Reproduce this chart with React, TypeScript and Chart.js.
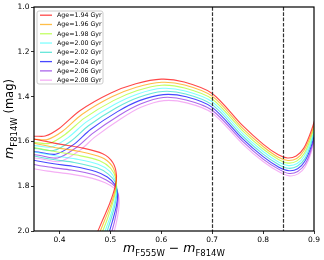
import React, { useEffect, useRef } from "react";
import { Chart, registerables } from "chart.js";

Chart.register(...registerables);

// ---- Data ----
const AGE_LABELS = [
  "Age=1.94 Gyr",
  "Age=1.96 Gyr",
  "Age=1.98 Gyr",
  "Age=2.00 Gyr",
  "Age=2.02 Gyr",
  "Age=2.04 Gyr",
  "Age=2.06 Gyr",
  "Age=2.08 Gyr",
];

const LINE_COLORS = [
  "rgba(255,0,0,0.72)",
  "rgba(255,165,0,0.72)",
  "rgba(173,255,47,0.75)",
  "rgba(0,255,255,0.5)",
  "rgba(64,224,208,0.8)",
  "rgba(0,0,255,0.72)",
  "rgba(138,43,226,0.72)",
  "rgba(238,130,238,0.65)",
];

// colour (F555W - F814W) and magnitude (F814W) along each isochrone
const X_194 = [0.468, 0.485, 0.499, 0.509, 0.512, 0.505, 0.485, 0.44, 0.4, 0.35, 0.335, 0.35, 0.372, 0.4, 0.44, 0.5, 0.55, 0.6, 0.645, 0.7, 0.76, 0.8, 0.83, 0.848, 0.865, 0.88, 0.895, 0.91];
const Y_194 = [2.04, 1.95, 1.875, 1.804, 1.75, 1.695, 1.655, 1.627, 1.612, 1.589, 1.584, 1.577, 1.576, 1.541, 1.463, 1.385, 1.343, 1.322, 1.335, 1.386, 1.53, 1.612, 1.66, 1.674, 1.665, 1.63, 1.55, 1.44];

const X_196 = [0.473, 0.489, 0.502, 0.51, 0.511, 0.503, 0.482, 0.437, 0.398, 0.35, 0.334, 0.35, 0.376, 0.406, 0.444, 0.503, 0.551, 0.601, 0.646, 0.7, 0.76, 0.8, 0.83, 0.849, 0.866, 0.88, 0.895, 0.91];
const Y_196 = [2.04, 1.951, 1.877, 1.809, 1.759, 1.708, 1.671, 1.644, 1.63, 1.608, 1.601, 1.591, 1.592, 1.555, 1.48, 1.401, 1.358, 1.336, 1.348, 1.398, 1.542, 1.623, 1.671, 1.685, 1.676, 1.642, 1.564, 1.449];

const X_198 = [0.478, 0.493, 0.504, 0.511, 0.511, 0.501, 0.479, 0.434, 0.396, 0.35, 0.332, 0.35, 0.38, 0.411, 0.449, 0.506, 0.553, 0.601, 0.646, 0.7, 0.76, 0.8, 0.831, 0.849, 0.866, 0.881, 0.895, 0.91];
const Y_198 = [2.04, 1.953, 1.879, 1.814, 1.767, 1.721, 1.686, 1.661, 1.647, 1.627, 1.617, 1.605, 1.609, 1.569, 1.496, 1.418, 1.373, 1.349, 1.362, 1.411, 1.553, 1.634, 1.682, 1.697, 1.688, 1.653, 1.577, 1.457];

const X_200 = [0.483, 0.497, 0.507, 0.512, 0.51, 0.499, 0.476, 0.431, 0.394, 0.35, 0.331, 0.35, 0.384, 0.417, 0.453, 0.509, 0.554, 0.602, 0.647, 0.7, 0.76, 0.8, 0.831, 0.85, 0.867, 0.881, 0.895, 0.91];
const Y_200 = [2.04, 1.954, 1.881, 1.819, 1.776, 1.734, 1.702, 1.678, 1.665, 1.646, 1.634, 1.619, 1.625, 1.583, 1.513, 1.434, 1.388, 1.363, 1.375, 1.423, 1.565, 1.645, 1.693, 1.708, 1.699, 1.665, 1.591, 1.466];

const X_202 = [0.488, 0.5, 0.509, 0.513, 0.51, 0.496, 0.474, 0.429, 0.391, 0.35, 0.329, 0.35, 0.388, 0.423, 0.457, 0.511, 0.556, 0.603, 0.648, 0.7, 0.76, 0.8, 0.831, 0.85, 0.867, 0.882, 0.895, 0.91];
const Y_202 = [2.04, 1.956, 1.884, 1.825, 1.784, 1.746, 1.718, 1.694, 1.682, 1.665, 1.65, 1.632, 1.641, 1.598, 1.53, 1.451, 1.403, 1.377, 1.388, 1.436, 1.577, 1.657, 1.704, 1.72, 1.711, 1.677, 1.604, 1.474];

const X_204 = [0.493, 0.504, 0.512, 0.514, 0.509, 0.494, 0.471, 0.426, 0.389, 0.35, 0.328, 0.35, 0.392, 0.429, 0.461, 0.514, 0.557, 0.604, 0.649, 0.7, 0.76, 0.8, 0.831, 0.851, 0.868, 0.882, 0.895, 0.91];
const Y_204 = [2.04, 1.957, 1.886, 1.83, 1.793, 1.759, 1.734, 1.711, 1.7, 1.684, 1.667, 1.646, 1.657, 1.612, 1.547, 1.467, 1.418, 1.391, 1.401, 1.448, 1.589, 1.668, 1.715, 1.731, 1.722, 1.689, 1.618, 1.483];

const X_206 = [0.498, 0.508, 0.514, 0.515, 0.509, 0.492, 0.468, 0.423, 0.387, 0.35, 0.326, 0.35, 0.396, 0.434, 0.466, 0.517, 0.559, 0.604, 0.649, 0.7, 0.76, 0.8, 0.832, 0.851, 0.868, 0.883, 0.895, 0.91];
const Y_206 = [2.04, 1.959, 1.888, 1.835, 1.801, 1.772, 1.749, 1.728, 1.717, 1.703, 1.683, 1.66, 1.674, 1.626, 1.563, 1.484, 1.433, 1.404, 1.415, 1.461, 1.6, 1.679, 1.726, 1.743, 1.734, 1.7, 1.631, 1.491];

const X_208 = [0.503, 0.512, 0.517, 0.516, 0.508, 0.49, 0.465, 0.42, 0.385, 0.35, 0.325, 0.35, 0.4, 0.44, 0.47, 0.52, 0.56, 0.605, 0.65, 0.7, 0.76, 0.8, 0.832, 0.852, 0.869, 0.883, 0.895, 0.91];
const Y_208 = [2.04, 1.96, 1.89, 1.84, 1.81, 1.785, 1.765, 1.745, 1.735, 1.722, 1.7, 1.674, 1.69, 1.64, 1.58, 1.5, 1.448, 1.418, 1.428, 1.473, 1.612, 1.69, 1.737, 1.754, 1.745, 1.712, 1.645, 1.5];

const X_SERIES = [X_194, X_196, X_198, X_200, X_202, X_204, X_206, X_208];
const Y_SERIES = [Y_194, Y_196, Y_198, Y_200, Y_202, Y_204, Y_206, Y_208];

const X_TICKS = [0.4, 0.5, 0.6, 0.7, 0.8, 0.9];
const Y_TICKS = [1.0, 1.2, 1.4, 1.6, 1.8, 2.0];
const X_RANGE = [0.35, 0.9];
const Y_RANGE = [1.0, 2.0];
const DASHED_X = [0.7, 0.84];

const FONT = "'DejaVu Sans', 'Liberation Sans', sans-serif";

type Part = { text: string; size: number; italic?: boolean; sub?: boolean };

function drawRich(ctx: CanvasRenderingContext2D, parts: Part[], cx: number, baseline: number, subShift: number) {
  let total = 0;
  const widths: number[] = [];
  for (const p of parts) {
    ctx.font = `${p.italic ? "italic " : ""}${p.size}px ${FONT}`;
    const w = ctx.measureText(p.text).width;
    widths.push(w);
    total += w;
  }
  let x = cx - total / 2;
  ctx.textBaseline = "alphabetic";
  ctx.textAlign = "left";
  parts.forEach((p, i) => {
    ctx.font = `${p.italic ? "italic " : ""}${p.size}px ${FONT}`;
    ctx.fillText(p.text, x, baseline + (p.sub ? subShift : 0));
    x += widths[i];
  });
}

const overlayPlugin = {
  id: "overlay",
  afterDatasetsDraw(chart: any) {
    const { ctx, chartArea, scales } = chart;
    const { left, right, top, bottom } = chartArea;
    ctx.save();
    // dashed vertical lines
    ctx.strokeStyle = "#333";
    ctx.lineWidth = 1.2;
    ctx.setLineDash([3.7, 1.6]);
    for (const v of DASHED_X) {
      const px = Math.round(scales.x.getPixelForValue(v)) + 0.5;
      ctx.beginPath();
      ctx.moveTo(px, top);
      ctx.lineTo(px, bottom);
      ctx.stroke();
    }
    ctx.setLineDash([]);

    // legend
    const lx = left + 3, ly = top + 4, lw = 66, lh = 73, r = 2;
    ctx.beginPath();
    ctx.moveTo(lx + r, ly);
    ctx.lineTo(lx + lw - r, ly);
    ctx.quadraticCurveTo(lx + lw, ly, lx + lw, ly + r);
    ctx.lineTo(lx + lw, ly + lh - r);
    ctx.quadraticCurveTo(lx + lw, ly + lh, lx + lw - r, ly + lh);
    ctx.lineTo(lx + r, ly + lh);
    ctx.quadraticCurveTo(lx, ly + lh, lx, ly + lh - r);
    ctx.lineTo(lx, ly + r);
    ctx.quadraticCurveTo(lx, ly, lx + r, ly);
    ctx.closePath();
    ctx.fillStyle = "rgba(255,255,255,0.85)";
    ctx.fill();
    ctx.strokeStyle = "#cccccc";
    ctx.lineWidth = 1;
    ctx.stroke();
    chart.data.datasets.forEach((ds: any, i: number) => {
      const ry = ly + 4.2 + i * 9.28;
      ctx.strokeStyle = ds.borderColor;
      ctx.lineWidth = 1.3;
      ctx.beginPath();
      ctx.moveTo(lx + 3, ry);
      ctx.lineTo(lx + 15, ry);
      ctx.stroke();
      ctx.fillStyle = "#000";
      ctx.font = `6.3px ${FONT}`;
      ctx.textAlign = "left";
      ctx.textBaseline = "middle";
      ctx.fillText(ds.label, lx + 20, ry + 0.3);
    });

    // frame
    ctx.strokeStyle = "#000";
    ctx.lineWidth = 1.2;
    ctx.strokeRect(left, top, right - left, bottom - top);

    // axis titles
    ctx.fillStyle = "#000";
    const cx = (left + right) / 2;
    drawRich(
      ctx,
      [
        { text: "m", size: 12.5, italic: true },
        { text: "F555W", size: 8.5, sub: true },
        { text: " \u2212 ", size: 12.5 },
        { text: "m", size: 12.5, italic: true },
        { text: "F814W", size: 8.5, sub: true },
      ],
      cx,
      252,
      3.5
    );
    const cy = (top + bottom) / 2;
    ctx.save();
    ctx.translate(13, cy);
    ctx.rotate(-Math.PI / 2);
    drawRich(
      ctx,
      [
        { text: "m", size: 12.5, italic: true },
        { text: "F814W", size: 8.5, sub: true },
        { text: " (mag)", size: 11.5 },
      ],
      0,
      0,
      3.5
    );
    ctx.restore();
    ctx.restore();
  },
};

export default function App() {
  const canvasRef = useRef<HTMLCanvasElement | null>(null);

  useEffect(() => {
    if (!canvasRef.current) return;
    const datasets = AGE_LABELS.map((label, i) => ({
      label,
      data: X_SERIES[i].map((x, j) => ({ x, y: Y_SERIES[i][j] })),
      borderColor: LINE_COLORS[i],
      backgroundColor: LINE_COLORS[i],
      borderWidth: 1.1,
      pointRadius: 0,
      showLine: true,
      tension: 0.3,
      fill: false,
    }));

    const tickFont = { family: FONT, size: 7.5 };
    const chart = new Chart(canvasRef.current, {
      type: "scatter",
      data: { datasets },
      options: {
        responsive: false,
        animation: false,
        layout: { padding: { left: 0, top: 7, right: 10, bottom: 0 } },
        plugins: { legend: { display: false }, tooltip: { enabled: false } },
        scales: {
          x: {
            type: "linear",
            min: X_RANGE[0],
            max: X_RANGE[1],
            afterBuildTicks: (s: any) => {
              s.ticks = X_TICKS.map((v) => ({ value: v }));
            },
            afterFit: (s: any) => {
              s.height = 29;
            },
            grid: { drawOnChartArea: false, drawTicks: true, tickLength: 3, color: "#000", lineWidth: 0.8 },
            border: { display: false },
            ticks: {
              padding: 1.5,
              color: "#000",
              font: tickFont,
              maxRotation: 0,
              autoSkip: false,
              callback: (v: any) => Number(v).toFixed(1),
            },
          },
          y: {
            type: "linear",
            reverse: true,
            min: Y_RANGE[0],
            max: Y_RANGE[1],
            afterBuildTicks: (s: any) => {
              s.ticks = Y_TICKS.map((v) => ({ value: v }));
            },
            afterFit: (s: any) => {
              s.width = 34;
            },
            grid: { drawOnChartArea: false, drawTicks: true, tickLength: 3, color: "#000", lineWidth: 0.8 },
            border: { display: false },
            ticks: {
              padding: 1.5,
              color: "#000",
              font: tickFont,
              autoSkip: false,
              callback: (v: any) => Number(v).toFixed(1),
            },
          },
        },
      },
      plugins: [overlayPlugin],
    } as any);
    return () => chart.destroy();
  }, []);

  return (
    <div style={{ position: "fixed", left: 0, top: 0, width: 324, height: 260, background: "#fff" }}>
      <canvas ref={canvasRef} width={324} height={260} style={{ display: "block", width: 324, height: 260 }} />
    </div>
  );
}
